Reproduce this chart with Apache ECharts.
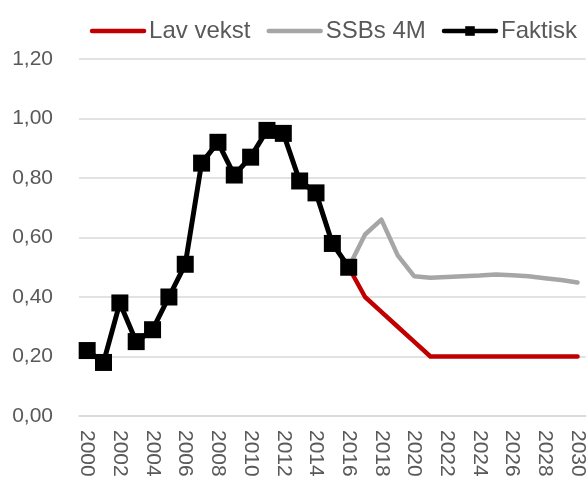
<!DOCTYPE html>
<html>
<head>
<meta charset="utf-8">
<script src="https://cdn.jsdelivr.net/npm/echarts@6/dist/echarts.min.js"></script>
<style>
html,body{margin:0;padding:0;background:#fff;}
#chart{width:588px;height:482px;}
</style>
</head>
<body>
<div id="chart"></div>
<script>
var years = [];
for (var y = 2000; y <= 2030; y++) years.push(String(y));

var faktisk = [0.22, 0.18, 0.38, 0.25, 0.29, 0.40, 0.51, 0.85, 0.92, 0.81, 0.87, 0.96, 0.95, 0.79, 0.75, 0.58, 0.50,
  null, null, null, null, null, null, null, null, null, null, null, null, null, null];
var lavVekst = [null, null, null, null, null, null, null, null, null, null, null, null, null, null, null, null, 0.50,
  0.40, 0.35, 0.30, 0.25, 0.20, 0.20, 0.20, 0.20, 0.20, 0.20, 0.20, 0.20, 0.20, 0.20];
var ssb4m = [null, null, null, null, null, null, null, null, null, null, null, null, null, null, null, null, 0.50,
  0.61, 0.66, 0.54, 0.47, 0.465, 0.467, 0.47, 0.472, 0.476, 0.473, 0.47, 0.463, 0.457, 0.449];
var yTicks = [0, 0.2, 0.4, 0.6, 0.8, 1.0, 1.2];

var font = 'Liberation Sans, Arial, sans-serif';
var chart = echarts.init(document.getElementById('chart'), null, {renderer: 'canvas'});
chart.setOption({
  animation: false,
  backgroundColor: '#ffffff',
  grid: {left: 79, right: 0, top: 59, bottom: 66, containLabel: false},
  legend: {
    top: 14, right: 6,
    itemWidth: 52, itemHeight: 12, itemGap: 16,
    textStyle: {fontFamily: font, fontSize: 24, color: '#595959', padding: [0, 0, 0, 0]},
    data: [
      {name: 'Lav vekst', itemStyle: {opacity: 0}, lineStyle: {width: 4.5, cap: 'round'}},
      {name: 'SSBs 4M', itemStyle: {opacity: 0}, lineStyle: {width: 4.5, cap: 'round'}},
      {name: 'Faktisk', lineStyle: {width: 4.5, cap: 'round'}}
    ]
  },
  xAxis: {
    type: 'category',
    data: years,
    boundaryGap: true,
    axisLine: {lineStyle: {color: '#D9D9D9', width: 1.5}},
    axisTick: {show: false},
    axisLabel: {interval: 1, rotate: -90, margin: 14, fontFamily: font, fontSize: 21, color: '#595959'}
  },
  yAxis: {
    type: 'value',
    min: yTicks[0], max: yTicks[yTicks.length - 1], interval: 0.2,
    axisLine: {show: false},
    axisTick: {show: false},
    splitLine: {lineStyle: {color: '#D9D9D9', width: 1.5}},
    axisLabel: {margin: 26, fontFamily: font, fontSize: 21, color: '#595959',
      formatter: function (v) { return v.toFixed(2).replace('.', ','); }}
  },
  series: [
    {name: 'Lav vekst', type: 'line', data: lavVekst, symbol: 'none',
      lineStyle: {color: '#C00000', width: 4.5, cap: 'round', join: 'round'}, itemStyle: {color: '#C00000'}},
    {name: 'SSBs 4M', type: 'line', data: ssb4m, symbol: 'none',
      lineStyle: {color: '#A6A6A6', width: 4.5, cap: 'round', join: 'round'}, itemStyle: {color: '#A6A6A6'}},
    {name: 'Faktisk', type: 'line', data: faktisk, symbol: 'rect', symbolSize: 17, showAllSymbol: true,
      lineStyle: {color: '#000000', width: 5, join: 'round'}, itemStyle: {color: '#000000'}}
  ]
});
</script>
</body>
</html>
